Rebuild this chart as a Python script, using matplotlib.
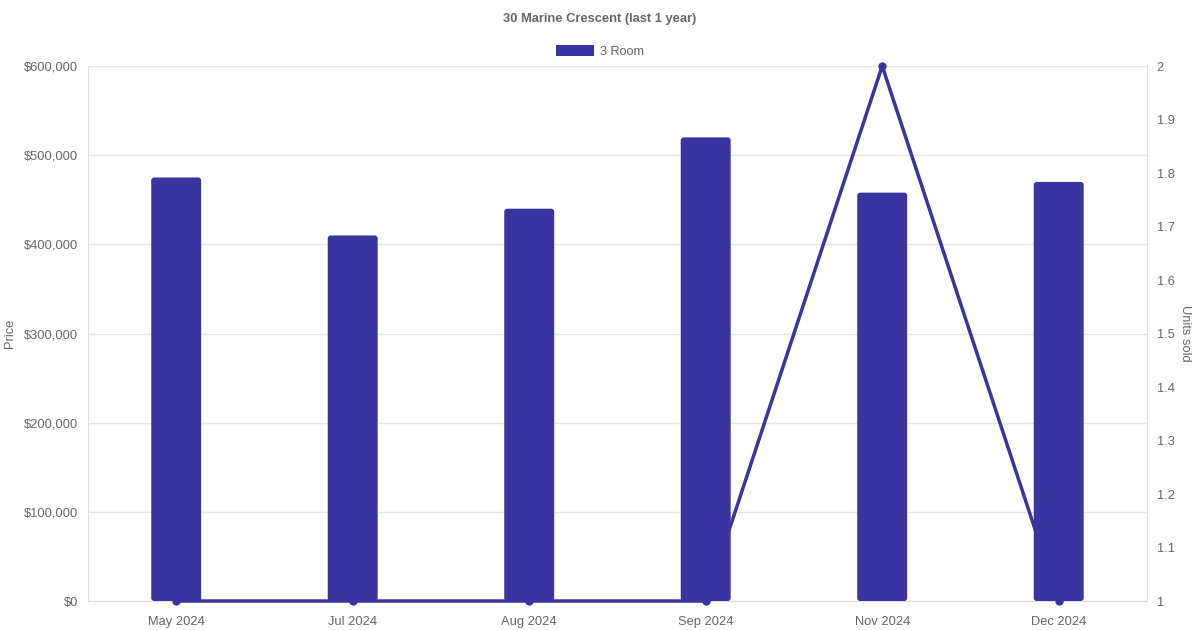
import numpy as np
import matplotlib
matplotlib.use("Agg")
import matplotlib.pyplot as plt
from matplotlib.patches import Patch, FancyBboxPatch
from matplotlib.ticker import FuncFormatter, MultipleLocator

plt.rcParams['font.family'] = ['Liberation Sans', 'DejaVu Sans']

# data
months = ['May 2024', 'Jul 2024', 'Aug 2024', 'Sep 2024', 'Nov 2024', 'Dec 2024']
prices = [475000, 410000, 440000, 520000, 458000, 470000]
units_sold = [1, 1, 1, 1, 2, 1]

BLUE = '#3934A0'
GREY = '#666666'
GRID = '#e5e5e5'

fig = plt.figure(figsize=(12, 6.3), dpi=100)
ax = fig.add_axes([0.0733, 0.046, 0.8825, 0.8492])
ax2 = ax.twinx()

x = np.arange(len(months))

ax.set_xlim(-0.5, len(months) - 0.5)
ax.set_ylim(0, 600000)

ax2.plot(x, units_sold, color=BLUE, lw=2.5, marker='o', ms=5, clip_on=False, zorder=2)

# rounded bars, in price units but drawn on ax2 so they sit over the line
bw = 0.283
aspect = (600000 / 535) * 176.5
for xi, p in zip(x, prices):
    ax2.add_patch(FancyBboxPatch((xi - bw / 2, 0), bw, p,
                                 boxstyle='round,pad=0,rounding_size=0.017',
                                 mutation_aspect=aspect, transform=ax.transData,
                                 fc=BLUE, ec='none', zorder=3))

ax2.set_xlim(-0.5, len(months) - 0.5)
ax2.set_ylim(1, 2)
ax2.yaxis.set_major_locator(MultipleLocator(0.1))
ax2.yaxis.set_major_formatter(FuncFormatter(lambda v, p: f'{v:g}'))

ax.yaxis.set_major_locator(MultipleLocator(100000))
ax.yaxis.set_major_formatter(FuncFormatter(lambda v, p: f'${v:,.0f}'))
ax.set_xticks(x)
ax.set_xticklabels(months)
ax.grid(axis='y', color=GRID, lw=1)
ax.set_axisbelow(True)

for a in (ax, ax2):
    for s in a.spines.values():
        s.set_visible(False)
    a.tick_params(colors=GREY, labelsize=9.3, length=0, pad=7)
ax.spines['left'].set_visible(True)
ax.spines['left'].set_color('#dddddd')
ax2.spines['right'].set_visible(True)
ax2.spines['right'].set_color('#dddddd')
ax.spines['bottom'].set_visible(True)
ax.spines['bottom'].set_color('#dddddd')
ax.tick_params(axis='x', length=0, pad=11)

ax.set_ylabel('Price', color=GREY, fontsize=9.3, labelpad=6)
ax2.set_ylabel('Units sold', color=GREY, fontsize=9.3, rotation=270, labelpad=12)

fig.text(0.5, 0.970, '30 Marine Crescent (last 1 year)', ha='center', va='center',
         fontsize=9.3, fontweight='bold', color=GREY)
fig.legend(handles=[Patch(facecolor=BLUE, edgecolor='none', label='3 Room')],
           loc='center', bbox_to_anchor=(0.5, 0.918), frameon=False,
           handlelength=3.0, handleheight=0.9, handletextpad=0.5,
           fontsize=9.1, labelcolor=GREY)

fig.savefig('out.png', dpi=100)
